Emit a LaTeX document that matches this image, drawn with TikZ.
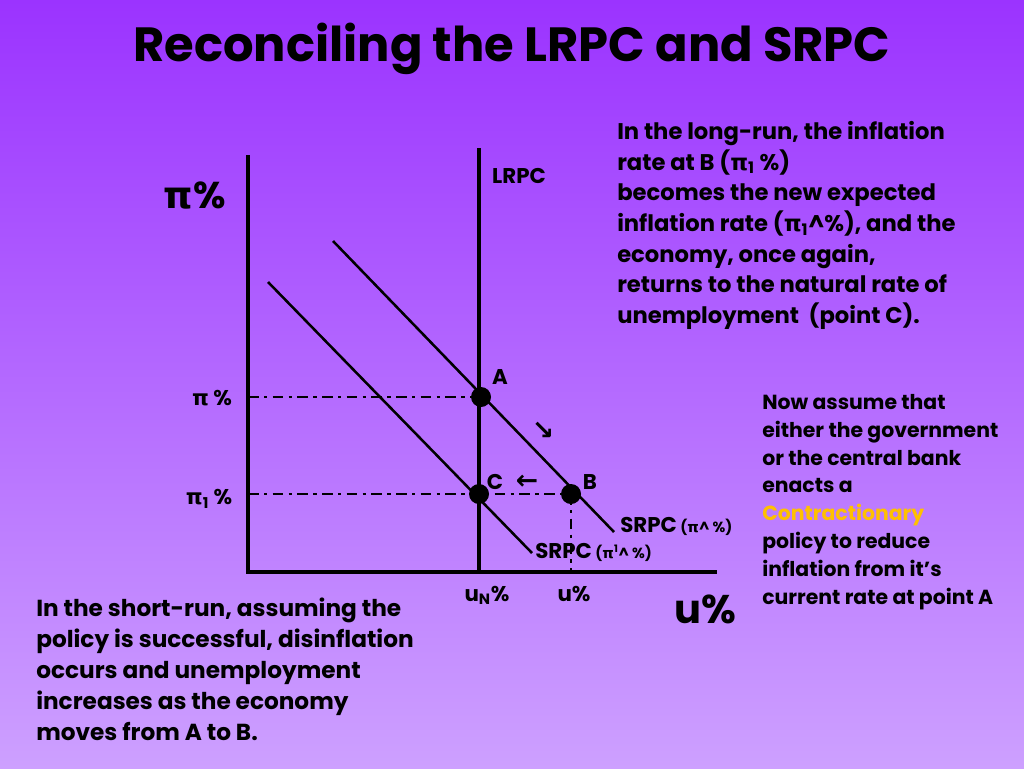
\documentclass[tikz,border=0pt]{standalone}
\usepackage{fontspec}
\setmainfont{Poppins}
\newfontfamily\gk{DejaVu Sans}
\newfontfamily\arr{DejaVu Sans}
\newcommand\PI{{\gk\bfseries π}}
\definecolor{bgtop}{RGB}{155,51,255}
\definecolor{bgbot}{RGB}{205,160,255}
\definecolor{gold}{RGB}{255,192,0}
\begin{document}
\begin{tikzpicture}[x=0.75pt,y=-0.75pt,
  axis/.style={line width=2.3pt},
  curve/.style={line width=1.9pt},
  dd/.style={line width=2pt,dash pattern=on 8pt off 4pt on 2.5pt off 4pt},
  dot/.style={circle,fill=black,minimum size=15pt,inner sep=0pt},
  lbl/.style={font=\bfseries\fontsize{16}{18}\selectfont,inner sep=0pt},
  para/.style={font=\bfseries\fontsize{17}{23}\selectfont,align=left,anchor=north west,inner sep=0pt}]
\shade[top color=bgtop,bottom color=bgbot] (0,0) rectangle (1024,768);
\useasboundingbox (0,0) rectangle (1024,768);

\node[font=\bfseries\fontsize{36}{40}\selectfont] (title) at (512,49) {Reconciling the LRPC and SRPC};

% axes
\coordinate (O) at (248,572);
\coordinate (Ytop) at (248,155);
\coordinate (Xend) at (717,572);
\coordinate (Ltop) at (479,148);
\coordinate (Lbot) at (479,572);
\draw[axis] (Ytop) -- (O) -- (Xend);
\draw[axis] (Ltop) -- (Lbot);

% curves
\coordinate (S1a) at (333,241); \coordinate (S1b) at (614,532);
\coordinate (S2a) at (268,282); \coordinate (S2b) at (532,553);
\draw[curve] (S1a) -- (S1b);
\draw[curve] (S2a) -- (S2b);

% points
\node[dot] (A) at (481,397) {};
\node[dot] (C) at (479,494) {};
\node[dot] (B) at (571,494) {};
\coordinate (pA) at (248,397);
\coordinate (pB) at (248,494);
\coordinate (uB) at (571,572);
\draw[dd] (pA) -- (A.center);
\draw[dd] (pB) -- (B.center);
\draw[dd] (B.center) -- (uB);

% labels
\node[lbl] (LRPC) at (519,176) {LRPC};
\node[font=\bfseries\fontsize{28}{30}\selectfont,inner sep=0pt] (piy) at (195,196) {\PI\%};
\node[lbl] (la) at (500,377) {A};
\node[lbl] (lc) at (495,482) {C};
\node[lbl] (lb) at (590,482) {B};
\node[font=\arr\bfseries\fontsize{20}{22}\selectfont,inner sep=0pt] (ar1) at (527,482) {←};
\node[font=\arr\bfseries\fontsize{20}{22}\selectfont,inner sep=0pt] (ar2) at (543,431) {↘};
\node[lbl] (pil) at (212,398) {\PI\ \%};
\node[lbl] (pi1l) at (209,499) {\PI$_{\mathbf 1}$ \%};
\node[lbl,anchor=base west] (s1) at (620,532) {SRPC\,{\fontsize{11}{12}\selectfont (\PI\textasciicircum\ \%)}};
\node[lbl,anchor=base west] (s2) at (535,558) {SRPC\,{\fontsize{11}{12}\selectfont (\PI\textsuperscript{1}\textasciicircum\ \%)}};
\node[lbl,anchor=base] (un) at (487,601) {u\textsubscript{N}\%};
\node[lbl,anchor=base] (u) at (574,601) {u\%};
\node[font=\bfseries\fontsize{30}{32}\selectfont,inner sep=0pt] (ux) at (705,609) {u\%};

% paragraphs
\node[para] (t1) at (617,121) {In the long-run, the inflation\\rate at B (\PI$_{\mathbf 1}$ \%)\\becomes the new expected\\inflation rate (\PI$_{\mathbf 1}$\textasciicircum\%), and the\\economy, once again,\\returns to the natural rate of\\unemployment\ \ (point C).};
\node[para,font=\bfseries\fontsize{15.3}{20.9}\selectfont] (t2) at (762,394) {Now assume that\\either the government\\or the central bank\\enacts a\\\textcolor{gold}{Contractionary}\\policy to reduce\\inflation from it’s\\current rate at point A};
\node[para,font=\bfseries\fontsize{17.4}{23.2}\selectfont] (t3) at (36,598) {In the short-run, assuming the\\policy is successful, disinflation\\occurs and unemployment\\increases as the economy\\moves from A to B.};
\end{tikzpicture}
\end{document}
